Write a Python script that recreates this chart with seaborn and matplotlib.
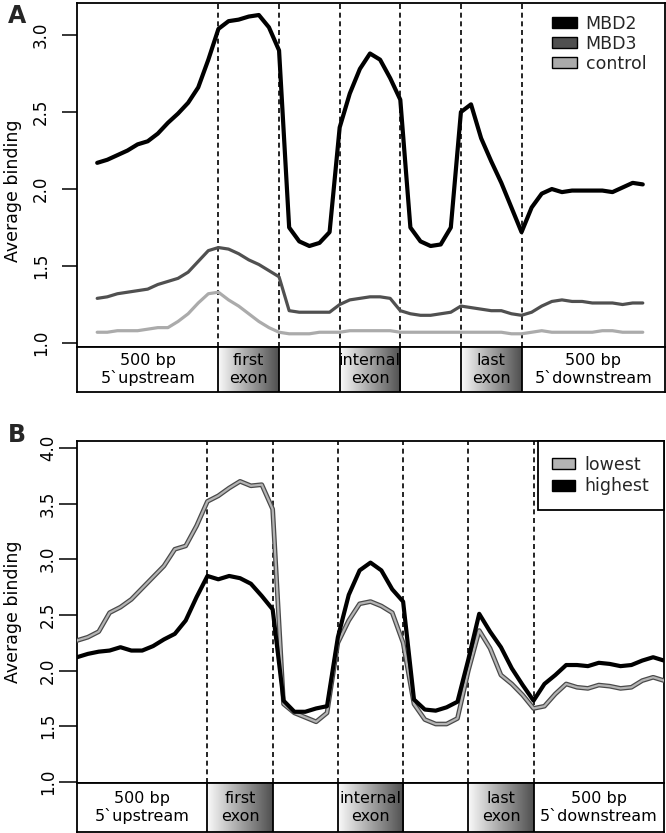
import numpy as np
import matplotlib
matplotlib.use('Agg')
import matplotlib.pyplot as plt
import matplotlib.patheffects as pe
import seaborn as sns
from matplotlib.patches import Patch
from matplotlib.colors import LinearSegmentedColormap

sns.set_theme(style='ticks')
plt.rcParams['font.family'] = ['DejaVu Sans']

# bins: 12 upstream, 6 per gene segment (5 segments), 12 downstream
bins = list(range(55))
boundaries = [12, 18, 24, 30, 36, 42]
seg_labels = ['500 bp\n5`upstream', 'first\nexon', '', 'internal\nexon', '', 'last\nexon', '500 bp\n5`downstream']
seg_exon = [False, True, False, True, False, True, False]

# Panel A
mbd2 = [2.17, 2.19, 2.22, 2.25, 2.29, 2.31, 2.36, 2.43, 2.49, 2.56, 2.66, 2.84, 3.04,
        3.09, 3.10, 3.12, 3.13, 3.05, 2.90,
        1.75, 1.66, 1.63, 1.65, 1.72, 2.40,
        2.62, 2.78, 2.88, 2.84, 2.72, 2.58,
        1.75, 1.66, 1.63, 1.64, 1.75, 2.50,
        2.55, 2.33, 2.18, 2.04, 1.88, 1.72,
        1.88, 1.97, 2.00, 1.98, 1.99, 1.99, 1.99, 1.99, 1.98, 2.01, 2.04, 2.03]
mbd3 = [1.29, 1.30, 1.32, 1.33, 1.34, 1.35, 1.38, 1.40, 1.42, 1.46, 1.53, 1.60, 1.62,
        1.61, 1.58, 1.54, 1.51, 1.47, 1.43,
        1.21, 1.20, 1.20, 1.20, 1.20, 1.25,
        1.28, 1.29, 1.30, 1.30, 1.29, 1.21,
        1.19, 1.18, 1.18, 1.19, 1.20, 1.24,
        1.23, 1.22, 1.21, 1.21, 1.19, 1.18,
        1.20, 1.24, 1.27, 1.28, 1.27, 1.27, 1.26, 1.26, 1.26, 1.25, 1.26, 1.26]
control = [1.07, 1.07, 1.08, 1.08, 1.08, 1.09, 1.10, 1.10, 1.14, 1.19, 1.26, 1.32, 1.33,
           1.28, 1.24, 1.19, 1.14, 1.10, 1.07,
           1.06, 1.06, 1.06, 1.07, 1.07, 1.07,
           1.08, 1.08, 1.08, 1.08, 1.08, 1.07,
           1.07, 1.07, 1.07, 1.07, 1.07, 1.07,
           1.07, 1.07, 1.07, 1.07, 1.06, 1.06,
           1.07, 1.08, 1.07, 1.07, 1.07, 1.07, 1.07, 1.08, 1.08, 1.07, 1.07, 1.07]

# Panel B
lowest = [2.27, 2.30, 2.35, 2.52, 2.57, 2.64, 2.74, 2.84, 2.94, 3.09, 3.12, 3.30, 3.52,
          3.57, 3.64, 3.70, 3.66, 3.67, 3.45,
          1.70, 1.62, 1.58, 1.54, 1.62, 2.25,
          2.45, 2.60, 2.62, 2.58, 2.52, 2.25,
          1.70, 1.56, 1.52, 1.52, 1.57, 2.00,
          2.36, 2.20, 1.96, 1.88, 1.78, 1.66,
          1.68, 1.79, 1.88, 1.85, 1.84, 1.87, 1.86, 1.84, 1.85, 1.91, 1.94, 1.91]
highest = [2.12, 2.15, 2.17, 2.18, 2.21, 2.18, 2.18, 2.22, 2.28, 2.33, 2.45, 2.66, 2.85,
           2.82, 2.85, 2.83, 2.78, 2.67, 2.55,
           1.73, 1.63, 1.63, 1.66, 1.68, 2.30,
           2.68, 2.90, 2.97, 2.90, 2.73, 2.62,
           1.74, 1.65, 1.64, 1.67, 1.72, 2.10,
           2.51, 2.35, 2.21, 2.02, 1.87, 1.73,
           1.88, 1.96, 2.05, 2.05, 2.04, 2.07, 2.06, 2.04, 2.05, 2.09, 2.12, 2.09]

exon_cmap = LinearSegmentedColormap.from_list('exon', ['#fafafa', '#4f4f4f'])


def style_main(ax, xlim, ylim, yticks, ticklen, tickpad, label_y):
    ax.set_xlim(xlim)
    ax.set_ylim(ylim)
    ax.set_xticks([])
    ax.set_yticks(yticks)
    ax.set_yticklabels(['%.1f' % t for t in yticks], rotation=90, va='center')
    ax.tick_params(axis='y', direction='out', length=ticklen, width=1.1,
                   pad=tickpad, labelsize=12, colors='black')
    for s in ax.spines.values():
        s.set_visible(True)
        s.set_color('black')
        s.set_linewidth(1.3)
    for b in boundaries:
        ax.axvline(b, color='black', lw=1.2, ls=(0, (3, 2.2)), zorder=1)
    ax.set_xlabel('')
    ax.set_ylabel('Average binding', fontsize=12.5, color='black')
    ax.yaxis.set_label_coords(-0.094, label_y)


def draw_strip(ax, xlim):
    edges = [xlim[0]] + boundaries + [xlim[1]]
    ax.set_xlim(xlim)
    ax.set_ylim(0, 1)
    grad = np.linspace(0, 1, 256).reshape(1, -1)
    for i, lab in enumerate(seg_labels):
        x0, x1 = edges[i], edges[i + 1]
        if seg_exon[i]:
            ax.imshow(grad, extent=[x0, x1, 0, 1], aspect='auto', cmap=exon_cmap, zorder=0)
        ax.text((x0 + x1) / 2, 0.5, lab, ha='center', va='center', fontsize=11.5,
                linespacing=1.2, color='black')
    for b in boundaries:
        ax.axvline(b, color='black', lw=1.3)
    ax.set_xlim(xlim)
    ax.set_ylim(0, 1)
    ax.set_xticks([])
    ax.set_yticks([])
    for s in ax.spines.values():
        s.set_visible(True)
        s.set_color('black')
        s.set_linewidth(1.3)


fig = plt.figure(figsize=(6.66, 8.33), dpi=100)
axA = fig.add_axes([0.1156, 0.5834, 0.8829, 0.413])
stripA = fig.add_axes([0.1156, 0.5294, 0.8829, 0.054])
axB = fig.add_axes([0.1156, 0.060, 0.8814, 0.4106])
stripB = fig.add_axes([0.1156, 0.0012, 0.8814, 0.0588])

# Panel A lines
sns.lineplot(x=bins, y=control, color='#ababab', lw=2.3, ax=axA, zorder=3)
sns.lineplot(x=bins, y=mbd3, color='#505050', lw=2.3, ax=axA, zorder=3)
sns.lineplot(x=bins, y=mbd2, color='black', lw=3.0, ax=axA, zorder=4)
xlimA = (-2.0, 56.2)
style_main(axA, xlimA, (0.974, 3.208), [1.0, 1.5, 2.0, 2.5, 3.0], 11, 8.5, 0.455)
handlesA = [Patch(facecolor='black', edgecolor='black', label='MBD2'),
            Patch(facecolor='#505050', edgecolor='black', label='MBD3'),
            Patch(facecolor='#ababab', edgecolor='black', label='control')]
axA.legend(handles=handlesA, loc='upper right', bbox_to_anchor=(0.968, 0.965),
           frameon=False, fontsize=12.5, handlelength=1.45, handleheight=0.6,
           handletextpad=0.5, labelspacing=0.1, borderpad=0, borderaxespad=0)
draw_strip(stripA, xlimA)

# Panel B lines
sns.lineplot(x=bins, y=lowest, color='#b4b4b4', lw=1.6, ax=axB, zorder=3,
             path_effects=[pe.Stroke(linewidth=3.4, foreground='#4a4a4a'), pe.Normal()])
sns.lineplot(x=bins, y=highest, color='black', lw=3.0, ax=axB, zorder=4)
xlimB = (0, 54)
style_main(axB, xlimB, (0.99, 4.0625), [1.0, 1.5, 2.0, 2.5, 3.0, 3.5, 4.0], 13, 1.5, 0.5)
handlesB = [Patch(facecolor='#b4b4b4', edgecolor='black', label='lowest'),
            Patch(facecolor='black', edgecolor='black', label='highest')]
legB = axB.legend(handles=handlesB, loc='upper right', bbox_to_anchor=(1.0, 1.0),
                  frameon=True, fancybox=False, framealpha=1, edgecolor='black',
                  fontsize=12.5, handlelength=1.3, handleheight=0.6,
                  handletextpad=0.55, labelspacing=0.2, borderpad=0.85,
                  borderaxespad=0)
legB.get_frame().set_linewidth(1.3)
legB.set_zorder(10)
draw_strip(stripB, xlimB)

fig.text(0.012, 0.981, 'A', fontsize=17, fontweight='bold', va='center', ha='left')
fig.text(0.012, 0.478, 'B', fontsize=17, fontweight='bold', va='center', ha='left')

fig.savefig('out.png', dpi=100)
